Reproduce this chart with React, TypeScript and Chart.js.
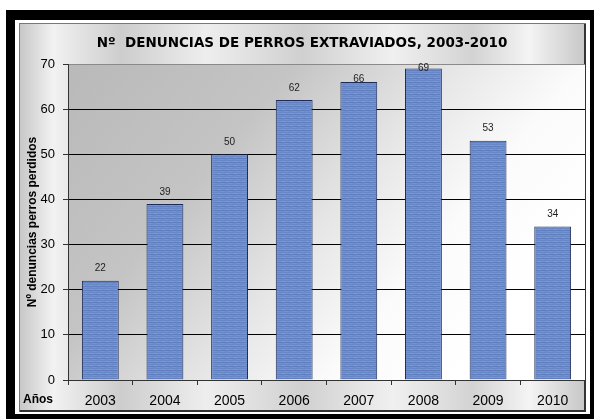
import React, { useEffect, useRef } from "react";
import { Chart, registerables } from "chart.js";

Chart.register(...registerables);

const TITLE = "Nº  DENUNCIAS DE PERROS EXTRAVIADOS, 2003-2010";
const Y_TITLE = "Nº denuncias perros perdidos";
const X_CORNER_LABEL = "Años";
const years = ["2003", "2004", "2005", "2006", "2007", "2008", "2009", "2010"];
const denuncias = [22, 39, 50, 62, 66, 69, 53, 34];

function makeBarPattern(): CanvasPattern | string {
  const c = document.createElement("canvas");
  c.width = 8;
  c.height = 4;
  const x = c.getContext("2d");
  if (!x) return "#6a8bca";
  const rows = ["#6787c7", "#7392d0", "#5f7fc0", "#6e8ecd"];
  rows.forEach((col, i) => {
    x.fillStyle = col;
    x.fillRect(0, i, 8, 1);
  });
  x.fillStyle = "rgba(255,255,255,0.08)";
  x.fillRect(2, 1, 3, 1);
  x.fillRect(5, 3, 2, 1);
  const p = x.createPattern(c, "repeat");
  return p || "#6a8bca";
}

const framePlugin = {
  id: "framePlugin",
  beforeDraw(chart: any) {
    const { ctx, chartArea } = chart;
    const W = chart.width;
    const H = chart.height;
    ctx.save();
    ctx.fillStyle = "#ffffff";
    ctx.fillRect(0, 0, W, H);
    ctx.fillStyle = "#000000";
    ctx.fillRect(6, 10, W - 6, H - 10);
    ctx.fillStyle = "#ffffff";
    ctx.fillRect(15, 20, 575, 394);
    const fx = 19, fy = 23, fw = 567, fh = 389;
    const g = ctx.createLinearGradient(fx, 0, fx + fw, 0);
    g.addColorStop(0, "#c6c6c6");
    g.addColorStop(0.06, "#f2f2f2");
    g.addColorStop(0.18, "#cdcdcd");
    g.addColorStop(0.33, "#eeeeee");
    g.addColorStop(0.5, "#d0d0d0");
    g.addColorStop(0.66, "#f0f0f0");
    g.addColorStop(0.8, "#d3d3d3");
    g.addColorStop(0.9, "#f4f4f4");
    g.addColorStop(1, "#c6c6c6");
    ctx.fillStyle = g;
    ctx.fillRect(fx, fy, fw, fh);
    ctx.strokeStyle = "#777777";
    ctx.lineWidth = 1;
    ctx.strokeRect(fx + 0.5, fy + 0.5, fw - 1, fh - 1);
    ctx.strokeStyle = "#333333";
    ctx.lineWidth = 2;
    ctx.beginPath();
    ctx.moveTo(fx + fw - 1, fy + 1);
    ctx.lineTo(fx + fw - 1, fy + fh - 1);
    ctx.lineTo(fx + 1, fy + fh - 1);
    ctx.stroke();
    const { left, top, right, bottom } = chartArea;
    const pg = ctx.createLinearGradient(left, top, left + (right - left) * 0.75, bottom);
    pg.addColorStop(0, "#b9b9b9");
    pg.addColorStop(0.35, "#c4c4c4");
    pg.addColorStop(0.6, "#e6e6e6");
    pg.addColorStop(0.8, "#fbfbfb");
    pg.addColorStop(1, "#ffffff");
    ctx.fillStyle = pg;
    ctx.fillRect(left, top, right - left, bottom - top);
    ctx.restore();
  },
  afterDraw(chart: any) {
    const { ctx, chartArea } = chart;
    ctx.save();
    ctx.fillStyle = "#000000";
    ctx.font = "bold 12px 'Liberation Sans', Arial, sans-serif";
    ctx.textAlign = "left";
    ctx.textBaseline = "middle";
    ctx.fillText(X_CORNER_LABEL, 23, chartArea.bottom + 20);
    ctx.restore();
  },
};

const labelPlugin = {
  id: "labelPlugin",
  afterDatasetsDraw(chart: any) {
    const { ctx, chartArea } = chart;
    const meta = chart.getDatasetMeta(0);
    const data = chart.data.datasets[0].data;
    ctx.save();
    ctx.fillStyle = "#222222";
    ctx.font = "10px 'Liberation Sans', Arial, sans-serif";
    ctx.textAlign = "center";
    ctx.textBaseline = "middle";
    meta.data.forEach((bar: any, i: number) => {
      let cy = bar.y - 12;
      if (cy < chartArea.top + 14) cy = Math.max(chartArea.top + 4, bar.y - 3);
      ctx.fillText(String(data[i]), bar.x, cy);
    });
    ctx.restore();
  },
};

export default function App() {
  const ref = useRef<HTMLCanvasElement>(null);
  useEffect(() => {
    if (!ref.current) return;
    const chart = new Chart(ref.current, {
      type: "bar",
      data: {
        labels: years,
        datasets: [
          {
            data: denuncias,
            backgroundColor: makeBarPattern() as any,
            borderColor: "#1c2a55",
            borderWidth: 1,
            categoryPercentage: 0.57,
            barPercentage: 1,
          },
        ],
      },
      options: {
        responsive: false,
        animation: false,
        devicePixelRatio: 1,
        layout: { padding: { left: 19, right: 9, top: 23, bottom: 7 } },
        plugins: {
          legend: { display: false },
          tooltip: { enabled: false },
          title: {
            display: true,
            text: TITLE,
            color: "#000000",
            font: { family: "'DejaVu Sans', sans-serif", size: 13.5, weight: "bold" },
            padding: { top: 12, bottom: 12.8 },
          },
        },
        scales: {
          x: {
            afterFit: (s: any) => { s.height = 32; },
            grid: {
              display: true,
              drawOnChartArea: false,
              drawTicks: true,
              tickLength: 5,
              tickColor: "#333333",
              offset: true,
            },
            border: { color: "#333333", width: 1 },
            ticks: {
              color: "#000000",
              padding: 8,
              font: { family: "'Liberation Sans', Arial, sans-serif", size: 14 },
            },
          },
          y: {
            min: 0,
            max: 70,
            afterFit: (s: any) => { s.width = 49; },
            ticks: {
              stepSize: 10,
              color: "#000000",
              padding: 8,
              font: { family: "'Liberation Sans', Arial, sans-serif", size: 13 },
            },
            grid: {
              color: (c: any) => (c.tick && c.tick.value === 70 ? "#8a8a8a" : "#000000"),
              tickColor: "#333333",
              tickLength: 5,
              lineWidth: 1,
            },
            border: { color: "#333333", width: 1 },
            title: {
              display: true,
              text: Y_TITLE,
              color: "#000000",
              font: { family: "'Liberation Sans', Arial, sans-serif", size: 12, weight: "bold" },
              padding: { top: 6, bottom: 0 },
            },
          },
        },
      },
      plugins: [framePlugin, labelPlugin],
    });
    return () => chart.destroy();
  }, []);
  return (
    <div style={{ position: "fixed", left: 0, top: 0, width: 594, height: 419 }}>
      <canvas ref={ref} width={594} height={419} />
    </div>
  );
}
